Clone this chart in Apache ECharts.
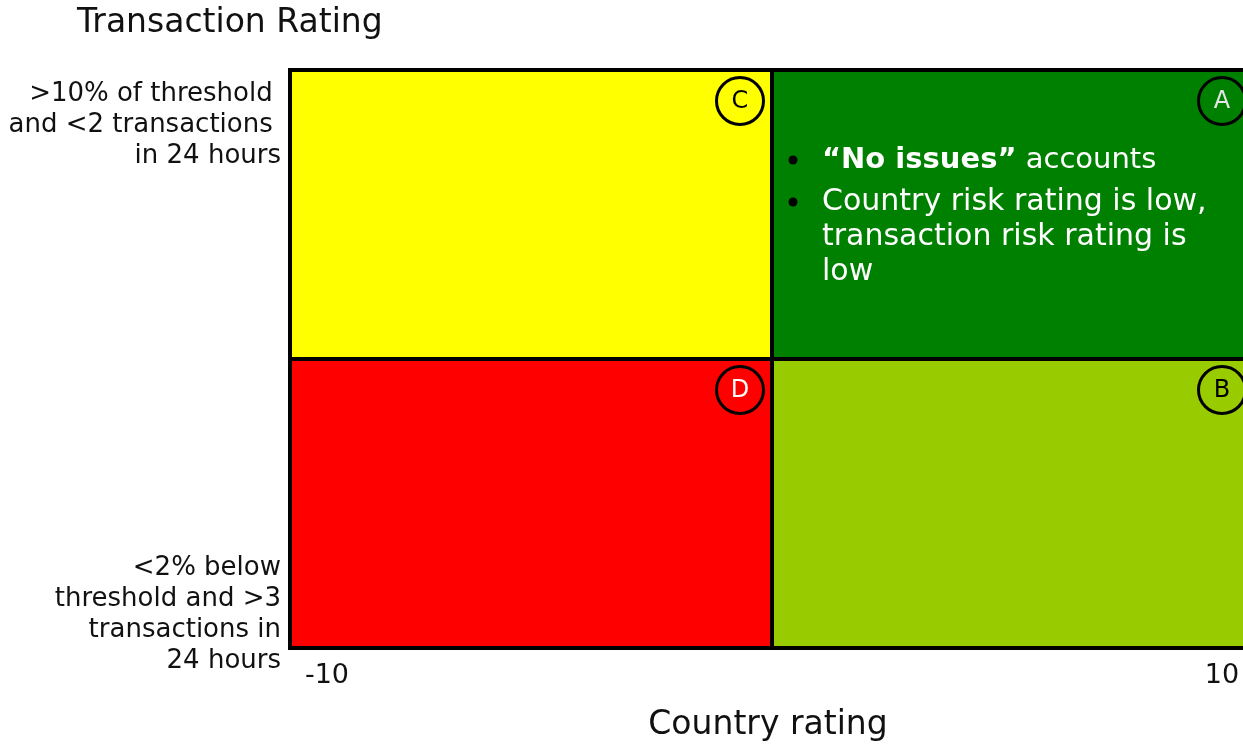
<!DOCTYPE html>
<html>
<head>
<meta charset="utf-8">
<script src="https://cdn.jsdelivr.net/npm/echarts@6/dist/echarts.min.js"></script>
<style>
html,body{margin:0;padding:0;background:#fff;overflow:hidden;}
#chart{width:1254px;height:747px;}
</style>
</head>
<body>
<div id="chart"></div>
<script>
// ---- data ----
const chartTitle = 'Transaction Rating';
const xAxisTitle = 'Country rating';
const xRange = [-10, 10];
const yRange = [-10, 10];
const xTickLabels = ['-10', '10'];
const yTickLabels = [
  '>10% of threshold \nand <2 transactions \nin 24 hours',
  '<2% below\nthreshold and >3\ntransactions in\n24 hours'
];
const quadrantIds = ['C', 'A', 'D', 'B'];
const quadrantX = [[-10, 0], [0, 10], [-10, 0], [0, 10]];
const quadrantY = [[0, 10], [0, 10], [-10, 0], [-10, 0]];
const noteA_bold = '“No issues”';
const noteA_line1 = ' accounts';
const noteA_line2 = 'Country risk rating is low,\ntransaction risk rating is\nlow';

// ---- styles ----
const FONT = '"DejaVu Sans", Verdana, sans-serif';
const quadStyle = {
  C: { fill: '#FFFF00', letter: '#000000' },
  A: { fill: '#008000', letter: '#e6e6e6' },
  D: { fill: '#FF0000', letter: '#ffffff' },
  B: { fill: '#99CC00', letter: '#000000' }
};

const seriesData = quadrantIds.map((id, i) => [quadrantX[i][0], quadrantX[i][1], quadrantY[i][0], quadrantY[i][1]]);

const chart = echarts.init(document.getElementById('chart'), null, { renderer: 'canvas' });

chart.setOption({
  animation: false,
  title: {
    text: chartTitle,
    left: 72,
    top: 2,
    textStyle: { fontFamily: FONT, fontSize: 33, fontWeight: 'normal', color: '#111' }
  },
  grid: { left: 290, right: 0, top: 70, bottom: 99, containLabel: false },
  xAxis: {
    type: 'value',
    min: xRange[0], max: xRange[1],
    name: xAxisTitle,
    nameLocation: 'middle',
    nameGap: 61,
    nameTextStyle: { fontFamily: FONT, fontSize: 33, color: '#111', padding: [0, 8, 0, 0] },
    axisLine: { show: false },
    axisTick: { show: false },
    splitLine: { show: false },
    axisLabel: {
      customValues: [xRange[0], xRange[1]],
      showMinLabel: true, showMaxLabel: true,
      margin: 14,
      fontFamily: FONT, fontSize: 27, color: '#111',
      formatter: function (v) { return v < 0 ? '{l|' + xTickLabels[0] + '}' : '{r|' + xTickLabels[1] + '}'; },
      rich: {
        l: { fontFamily: FONT, fontSize: 27, color: '#111', padding: [0, 0, 0, 74] },
        r: { fontFamily: FONT, fontSize: 27, color: '#111', padding: [0, 64, 0, 0] }
      }
    }
  },
  yAxis: {
    type: 'value',
    min: yRange[0], max: yRange[1],
    axisLine: { show: false },
    axisTick: { show: false },
    splitLine: { show: false },
    axisLabel: {
      customValues: [8.1, -8.86],
      showMinLabel: true, showMaxLabel: true,
      margin: 9,
      align: 'right',
      fontFamily: FONT, fontSize: 26, lineHeight: 31, color: '#111',
      formatter: function (v) { return v > 0 ? yTickLabels[0] : yTickLabels[1]; }
    }
  },
  series: [{
    type: 'custom',
    clip: false,
    data: seriesData,
    renderItem: function (params, api) {
      const i = params.dataIndex;
      const id = quadrantIds[i];
      const st = quadStyle[id];
      const tl = api.coord([api.value(0), api.value(3)]);
      const br = api.coord([api.value(1), api.value(2)]);
      const cx = br[0] - 32, cy = tl[1] + 31;
      const children = [
        { type: 'rect', shape: { x: tl[0], y: tl[1], width: br[0] - tl[0], height: br[1] - tl[1] },
          style: { fill: st.fill, stroke: '#000', lineWidth: 4 } },
        { type: 'circle', shape: { cx: cx, cy: cy, r: 23.5 },
          style: { fill: 'none', stroke: '#000', lineWidth: 3 } },
        { type: 'text', style: { x: cx, y: cy + 1, text: id, fill: st.letter, fontFamily: FONT, fontSize: 24,
          align: 'center', verticalAlign: 'middle' } }
      ];
      if (id === 'A') {
        const bx = tl[0] + 21, tx = tl[0] + 50;
        children.push(
          { type: 'circle', shape: { cx: bx, cy: tl[1] + 90, r: 4.5 }, style: { fill: '#000' } },
          { type: 'circle', shape: { cx: bx, cy: tl[1] + 132, r: 4.5 }, style: { fill: '#000' } },
          { type: 'text', style: {
              x: tx, y: tl[1] + 90, verticalAlign: 'middle', align: 'left',
              text: '{b|' + noteA_bold + '}{n|' + noteA_line1 + '}',
              rich: {
                b: { fontFamily: FONT, fontSize: 29, fontWeight: 'bold', fill: '#fff' },
                n: { fontFamily: FONT, fontSize: 29, fill: '#fff' }
              }
          } },
          { type: 'text', style: {
              x: tx, y: tl[1] + 132 - 17.5, verticalAlign: 'top', align: 'left',
              text: noteA_line2, fontFamily: FONT, fontSize: 30, lineHeight: 35, fill: '#fff'
          } }
        );
      }
      return { type: 'group', children: children };
    }
  }]
});
</script>
</body>
</html>
